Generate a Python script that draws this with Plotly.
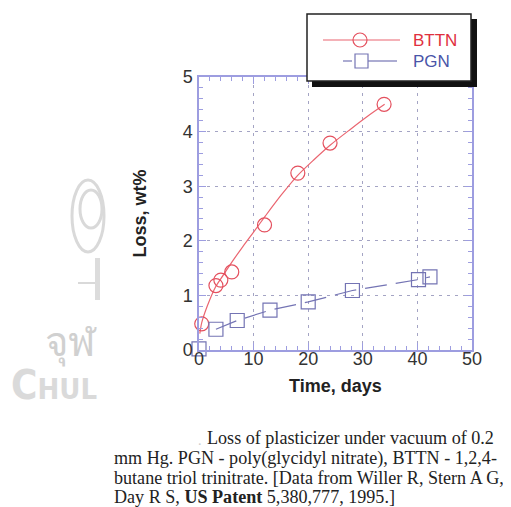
import plotly.graph_objects as go

# ---------------- data ----------------
bttn_t = [0.5, 3.1, 4.0, 6.0, 12.0, 18.1, 24.0, 33.9]
bttn_loss = [0.48, 1.18, 1.28, 1.43, 2.29, 3.24, 3.79, 4.50]

# smooth trend curve drawn through the BTTN data
bttn_curve_t = [0.15, 0.5, 1.5, 3.0, 4.5, 6.3, 8.0, 10.0, 12.2, 15.0, 18.0, 21.0, 24.0, 27.7, 31.0, 34.0]
bttn_curve_loss = [0.30, 0.50, 0.80, 1.15, 1.38, 1.65, 1.89, 2.16, 2.46, 2.83, 3.19, 3.48, 3.75, 4.04, 4.29, 4.50]

pgn_t = [0.0, 3.1, 7.0, 13.0, 20.0, 28.1, 40.2, 42.3]
pgn_loss = [0.02, 0.38, 0.54, 0.73, 0.88, 1.09, 1.29, 1.34]

x_ticks = [0, 10, 20, 30, 40, 50]
y_ticks = [0, 1, 2, 3, 4, 5]

caption_lines = [
    "Loss of plasticizer under vacuum of 0.2",
    "mm Hg. PGN - poly(glycidyl nitrate), BTTN - 1,2,4-",
    "butane triol trinitrate. [Data from Willer R, Stern A G,",
    "Day R S, <b>US Patent</b> 5,380,777, 1995.]",
]

RED = "#e4505e"
RED_LINE = "#ea6570"
BLUE = "#7474b4"
AXIS = "#9d9de0"
GRID = "#a4a4c4"

# page offset (body margin) and plot area in screen pixels
OFF = 8
FW, FH = 511 - OFF, 507 - OFF
L, R, T, B = 199, 472, 77, 350
W, H = R - L, B - T


def px(p):
    return (p - L) / W


def py(p):
    return (B - p) / H


fig = go.Figure()

fig.add_trace(go.Scatter(
    x=bttn_curve_t, y=bttn_curve_loss, mode="lines",
    line=dict(color=RED_LINE, width=1.2, shape="spline", smoothing=0.8),
    showlegend=False, hoverinfo="skip"))
fig.add_trace(go.Scatter(
    x=bttn_t, y=bttn_loss, mode="markers", name="BTTN",
    marker=dict(symbol="circle-open", size=14, color=RED, line=dict(width=1.2)),
    showlegend=False, cliponaxis=False))

fig.add_trace(go.Scatter(
    x=pgn_t[1:], y=pgn_loss[1:], mode="lines",
    line=dict(color=BLUE, width=1.2, dash="22px,9px"),
    showlegend=False, hoverinfo="skip"))
fig.add_trace(go.Scatter(
    x=pgn_t, y=pgn_loss, mode="markers", name="PGN",
    marker=dict(symbol="square-open", size=14, color=BLUE, line=dict(width=1.2)),
    showlegend=False, cliponaxis=False))

axis_common = dict(
    showline=True, linecolor=AXIS, linewidth=1.5, mirror="ticks",
    ticks="inside", tickcolor=AXIS, ticklen=7, tickwidth=1.2,
    showgrid=True, gridcolor=GRID, gridwidth=1, griddash="3px,5px",
    zeroline=False,
    tickfont=dict(family="Liberation Sans, Arial, sans-serif", size=18, color="#333333"),
)

fig.update_xaxes(range=[0, 50], tickvals=x_ticks, ticktext=[str(v) for v in x_ticks],
                 minor=dict(dtick=2, ticks="inside", ticklen=4, tickcolor=AXIS, showgrid=False),
                 ticklabelstandoff=-8, **axis_common)
fig.update_yaxes(range=[0, 5], tickvals=y_ticks, ticktext=[str(v) for v in y_ticks],
                 minor=dict(dtick=0.2, ticks="inside", ticklen=4, tickcolor=AXIS, showgrid=False),
                 ticklabelstandoff=1, **axis_common)

shapes = []
# legend: shadow + box
shapes.append(dict(type="rect", xref="paper", yref="paper", layer="above",
                   x0=px(312), x1=px(477), y0=py(87), y1=py(19),
                   fillcolor="#111111", line=dict(width=0)))
shapes.append(dict(type="rect", xref="paper", yref="paper", layer="above",
                   x0=px(307), x1=px(471), y0=py(81), y1=py(14),
                   fillcolor="white", line=dict(color="#222222", width=1.5)))
# legend samples
shapes.append(dict(type="line", xref="paper", yref="paper", layer="above",
                   x0=px(323), x1=px(400), y0=py(40), y1=py(40),
                   line=dict(color=RED_LINE, width=1.2)))
shapes.append(dict(type="circle", xref="paper", yref="paper", layer="above",
                   x0=px(353), x1=px(367), y0=py(47), y1=py(33),
                   line=dict(color=RED, width=1.2)))
shapes.append(dict(type="line", xref="paper", yref="paper", layer="above",
                   x0=px(343), x1=px(352), y0=py(61), y1=py(61),
                   line=dict(color=BLUE, width=1.2)))
shapes.append(dict(type="rect", xref="paper", yref="paper", layer="above",
                   x0=px(355), x1=px(368), y0=py(68), y1=py(54),
                   line=dict(color=BLUE, width=1.2)))
shapes.append(dict(type="line", xref="paper", yref="paper", layer="above",
                   x0=px(368), x1=px(397), y0=py(61), y1=py(61),
                   line=dict(color=BLUE, width=1.2)))

# faint watermark logo (left side)
WM = "#d9d9d9"
shapes.append(dict(type="circle", xref="paper", yref="paper", layer="below",
                   x0=px(72), x1=px(104), y0=py(252), y1=py(180),
                   line=dict(color=WM, width=3)))
shapes.append(dict(type="circle", xref="paper", yref="paper", layer="below",
                   x0=px(80), x1=px(102), y0=py(228), y1=py(190),
                   line=dict(color=WM, width=3)))
shapes.append(dict(type="line", xref="paper", yref="paper", layer="below",
                   x0=px(78), x1=px(100), y0=py(283), y1=py(283),
                   line=dict(color=WM, width=2)))
shapes.append(dict(type="rect", xref="paper", yref="paper", layer="below",
                   x0=px(95), x1=px(100), y0=py(300), y1=py(258),
                   fillcolor="#dcdcdc", line=dict(width=0)))

annotations = [
    dict(text="BTTN", x=px(411), y=py(40), xref="paper", yref="paper",
         xanchor="left", yanchor="middle", showarrow=False,
         font=dict(family="Liberation Sans, Arial, sans-serif", size=17, color="#e0303e")),
    dict(text="PGN", x=px(411), y=py(61), xref="paper", yref="paper",
         xanchor="left", yanchor="middle", showarrow=False,
         font=dict(family="Liberation Sans, Arial, sans-serif", size=17, color="#4a55a8")),
    dict(text="<b>Time, days</b>", x=0.5, y=py(386), xref="paper", yref="paper",
         xanchor="center", yanchor="middle", showarrow=False,
         font=dict(family="Liberation Sans, Arial, sans-serif", size=18, color="#222222")),
    dict(text="<b>Loss, wt%</b>", x=px(139), y=0.5, xref="paper", yref="paper",
         xanchor="center", yanchor="middle", showarrow=False, textangle=-90,
         font=dict(family="Liberation Sans, Arial, sans-serif", size=18, color="#222222")),
    # watermark text
    dict(text="จุฬ", x=px(99), y=py(340), xref="paper", yref="paper",
         xanchor="right", yanchor="middle", showarrow=False,
         font=dict(family="Noto Sans, DejaVu Sans, sans-serif", size=40, color="#d0d0d0")),
    dict(text="<b>C<span style='font-size:29px'>HUL</span></b>", x=px(99), y=py(385), xref="paper", yref="paper",
         xanchor="right", yanchor="middle", showarrow=False,
         font=dict(family="DejaVu Sans Condensed, Liberation Sans, sans-serif", size=40, color="#dadada")),
    dict(text=".", x=px(196), y=py(440), xref="paper", yref="paper",
         xanchor="left", yanchor="middle", showarrow=False,
         font=dict(family="Liberation Serif, serif", size=14, color="#cccccc")),
]

cap_x = [205, 112, 112, 112]
cap_y = [438, 458, 478, 497]
for txt, cx, cy in zip(caption_lines, cap_x, cap_y):
    annotations.append(dict(
        text=txt, x=px(cx), y=py(cy), xref="paper", yref="paper",
        xanchor="left", yanchor="middle", showarrow=False,
        font=dict(family="Liberation Serif, Times New Roman, serif", size=18.1, color="#222222")))

fig.update_layout(
    width=FW, height=FH,
    margin=dict(l=L - OFF, r=FW - (R - OFF), t=T - OFF, b=FH - (B - OFF), pad=0),
    paper_bgcolor="white", plot_bgcolor="white",
    showlegend=False,
    shapes=shapes, annotations=annotations,
)

fig.write_html("out.html")
